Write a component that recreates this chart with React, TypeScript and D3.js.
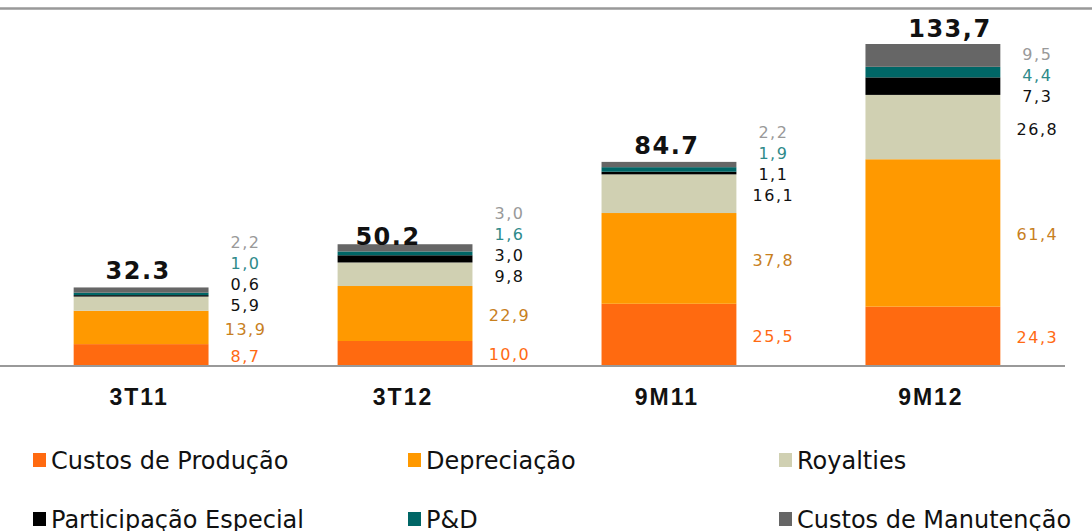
import React from 'react';
import * as d3 from 'd3';

// periods and totals shown above each bar
const categories = ['3T11', '3T12', '9M11', '9M12'];
const totalLabels = ['32.3', '50.2', '84.7', '133,7'];

const seriesNames = [
  'Custos de Produção',
  'Depreciação',
  'Royalties',
  'Participação Especial',
  'P&D',
  'Custos de Manutenção',
];

// values per series, one entry per period (R$ MM)
const custosProducao = [8.7, 10.0, 25.5, 24.3];
const depreciacao = [13.9, 22.9, 37.8, 61.4];
const royalties = [5.9, 9.8, 16.1, 26.8];
const participacaoEspecial = [0.6, 3.0, 1.1, 7.3];
const pd = [1.0, 1.6, 1.9, 4.4];
const custosManutencao = [2.2, 3.0, 2.2, 9.5];

const seriesValues = [custosProducao, depreciacao, royalties, participacaoEspecial, pd, custosManutencao];

const fills = ['#ff6a10', '#ff9900', '#d0d0b2', '#000000', '#006666', '#666666'];
const labelColors = ['#ff6a13', '#c8801e', '#111111', '#111111', '#2e8a8a', '#999999'];

// hand nudges for the total labels (dx, dy) as placed in the original slide
const totalNudge = [[-3, 0], [-17, 9], [-2, 0], [17, 1]];

const W = 1092;
const H = 531;
const baseY = 365;

function fmt(v: number) {
  return v.toFixed(1).replace('.', ',');
}

export default function App() {
  const x = d3.scaleBand<string>()
    .domain(categories)
    .range([9, 1065])
    .paddingInner(0.489)
    .paddingOuter(0.245);

  const y = d3.scaleLinear().domain([0, 133.7]).range([baseY, 44]);

  const table = categories.map((c, i) => {
    const row: any = { cat: c };
    seriesNames.forEach((s, j) => { row[s] = seriesValues[j][i]; });
    return row;
  });
  const stacked = d3.stack<any>().keys(seriesNames)(table);

  // label positions: start at segment centre, push upward, clamp, then push downward
  const gap = 21;
  const minY = 54;
  const labelYs = categories.map((_, i) => {
    const ys = stacked.map(layer => (y(layer[i][0]) + y(layer[i][1])) / 2 + 2);
    for (let k = 1; k < ys.length; k++) ys[k] = Math.min(ys[k], ys[k - 1] - gap);
    const top = ys.length - 1;
    ys[top] = Math.max(ys[top], minY);
    for (let k = top - 1; k >= 0; k--) ys[k] = Math.max(ys[k], ys[k + 1] + gap);
    return ys;
  });

  const legendCols = [33, 408, 779];
  const legendRows = [460, 519];

  return (
    <svg width={W} height={H} style={{ position: 'absolute', left: 0, top: 0, background: '#fff' }}>
      <line x1={0} x2={W} y1={8.5} y2={8.5} stroke="#999" strokeWidth={2.5} />

      {stacked.map((layer, j) => (
        <g key={seriesNames[j]}>
          {layer.map((d, i) => (
            <rect
              key={i}
              x={x(categories[i])}
              width={x.bandwidth()}
              y={y(d[1])}
              height={y(d[0]) - y(d[1])}
              fill={fills[j]}
            />
          ))}
        </g>
      ))}

      <line x1={0} x2={1065} y1={baseY + 1} y2={baseY + 1} stroke="#999" strokeWidth={2} />

      {categories.map((c, i) => {
        const bx = (x(c) as number) + x.bandwidth();
        return (
          <g key={c}>
            {stacked.map((layer, j) => (
              <text
                key={j}
                x={bx + 37}
                y={labelYs[i][j]}
                textAnchor="middle"
                dominantBaseline="central"
                fill={labelColors[j]}
                style={{ font: '16px "DejaVu Sans", Verdana, sans-serif', letterSpacing: '1.5px' }}
              >
                {fmt(layer[i].data[seriesNames[j]])}
              </text>
            ))}
            <text
              x={(x(c) as number) + x.bandwidth() / 2 + totalNudge[i][0]}
              y={y(stacked[stacked.length - 1][i][1]) - 8 + totalNudge[i][1]}
              textAnchor="middle"
              fill="#111"
              style={{ font: 'bold 24px "DejaVu Sans", Verdana, sans-serif', letterSpacing: '1.5px' }}
            >
              {totalLabels[i]}
            </text>
            <text
              x={(x(c) as number) + x.bandwidth() / 2 - 2}
              y={405}
              textAnchor="middle"
              fill="#111"
              style={{ font: 'bold 23px "Liberation Sans", Arial, sans-serif', letterSpacing: '2px' }}
            >
              {c}
            </text>
          </g>
        );
      })}

      {seriesNames.map((s, j) => {
        const lx = legendCols[j % 3];
        const ly = legendRows[Math.floor(j / 3)];
        return (
          <g key={s}>
            <rect x={lx} y={ly - 7} width={13} height={14} fill={fills[j]} />
            <text
              x={lx + 18}
              y={ly + 9}
              fill="#111"
              style={{ font: '24px "DejaVu Sans", Verdana, sans-serif' }}
            >
              {s}
            </text>
          </g>
        );
      })}
    </svg>
  );
}
